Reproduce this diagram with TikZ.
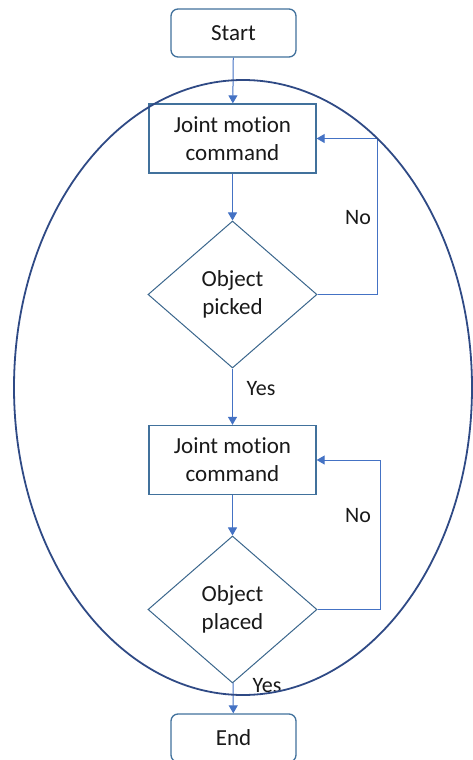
\documentclass[tikz,border=0pt]{standalone}
\usepackage{fontspec}
\setmainfont{Carlito}[Ligatures=NoCommon]
\usetikzlibrary{shapes.geometric,arrows.meta}
\definecolor{boxblue}{HTML}{41719C}
\definecolor{flowblue}{HTML}{4472C4}
\definecolor{ringblue}{HTML}{2F4A85}
\begin{document}
\begin{tikzpicture}[x=1pt,y=-1pt,
  every node/.style={font=\fontsize{23}{28}\selectfont, text=black!90, align=center, inner sep=0pt},
  terminal/.style={draw=boxblue, line width=1.3pt, rounded corners=7pt, fill=white,
                   minimum width=125pt, minimum height=48pt},
  process/.style={draw=boxblue, line width=1.3pt, fill=white,
                  minimum width=167pt, minimum height=69pt},
  decision/.style={diamond, draw=boxblue!90!black, line width=1pt,
                   minimum width=169pt, minimum height=147pt},
  flow/.style={draw=flowblue, line width=1pt, -{Triangle[width=9pt,length=8pt]}},
  tag/.style={font=\fontsize{22}{26}\selectfont}
]
\useasboundingbox (0,0) rectangle (473,760);

% flowchart nodes
\node[terminal] (start) at (233.5,33) {Start};
\node[process]  (jm1)   at (232.5,138.5) {Joint motion\\command};
\node[decision] (pick)  at (232.5,294.5) {Object\\picked};
\node[process]  (jm2)   at (232.5,460) {Joint motion\\command};
\node[decision] (place) at (232.5,609.5) {Object\\placed};
\node[terminal] (stop)  at (233.5,738) {End};

% corners of the two retry loops
\coordinate (l1a) at (377,294.5);
\coordinate (l1b) at (377,138.5);
\coordinate (l2a) at (380,609.5);
\coordinate (l2b) at (380,460);

% main flow
\draw[flow] (start) -- (jm1);
\draw[flow] (jm1) -- (pick);
\draw[flow] (pick) -- (jm2);
\draw[flow] (jm2) -- (place);
\draw[flow] (place) -- (stop);

% retry loops
\draw[flow] (pick.east) -- (l1a) -- (l1b) -- (jm1.east);
\draw[flow] (place.east) -- (l2a) -- (l2b) -- (jm2.east);

% branch labels
\node[tag] (no1)  at (358,218) {No};
\node[tag] (yes1) at (261,389) {Yes};
\node[tag] (no2)  at (358,516) {No};
\node[tag] (yes2) at (267,686) {Yes};

% ring around the pick-and-place cycle
\draw[ringblue, line width=1.8pt] (243,387.5) ellipse [x radius=229, y radius=307.5];
\end{tikzpicture}
\end{document}
